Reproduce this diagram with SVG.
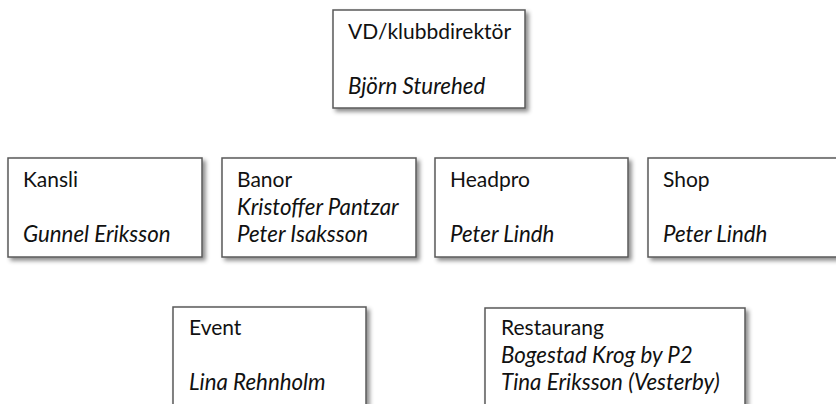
<svg xmlns="http://www.w3.org/2000/svg" width="836" height="404" viewBox="0 0 836 404">
<defs>
<filter id="sh" x="-10%" y="-10%" width="130%" height="130%">
<feDropShadow dx="3" dy="3" stdDeviation="2" flood-color="#000" flood-opacity="0.45"/>
</filter>
</defs>
<style>
.box{fill:#fff;stroke:#5a5a5a;stroke-width:1.5;filter:url(#sh)}
text{font-family:Lato,"Open Sans",sans-serif;font-size:21px;fill:#111}
.i{font-style:italic;font-size:22.3px}
</style>
<rect width="836" height="404" fill="#fff"/>
<g id="vd"><rect class="box" x="333" y="10" width="192" height="98"/><text x="348" y="39">VD/klubbdirektör</text><text class="i" x="348" y="94">Björn Sturehed</text></g>
<g id="kansli"><rect class="box" x="8" y="158" width="194" height="99"/><text x="23" y="187">Kansli</text><text class="i" x="23" y="242">Gunnel Eriksson</text></g>
<g id="banor"><rect class="box" x="222" y="158" width="194" height="99"/><text x="237" y="187">Banor</text><text class="i" x="237" y="215">Kristoffer Pantzar</text><text class="i" x="237" y="242">Peter Isaksson</text></g>
<g id="headpro"><rect class="box" x="435" y="158" width="193" height="99"/><text x="450" y="187">Headpro</text><text class="i" x="450" y="242">Peter Lindh</text></g>
<g id="shop"><rect class="box" x="648" y="158" width="194" height="99"/><text x="663" y="187">Shop</text><text class="i" x="663" y="242">Peter Lindh</text></g>
<g id="event"><rect class="box" x="173" y="307" width="193" height="99"/><text x="189" y="335">Event</text><text class="i" x="189" y="390">Lina Rehnholm</text></g>
<g id="restaurang"><rect class="box" x="485" y="308" width="260" height="99"/><text x="501" y="335">Restaurang</text><text class="i" x="501" y="363">Bogestad Krog by P2</text><text class="i" x="501" y="390">Tina Eriksson (Vesterby)</text></g>
</svg>
